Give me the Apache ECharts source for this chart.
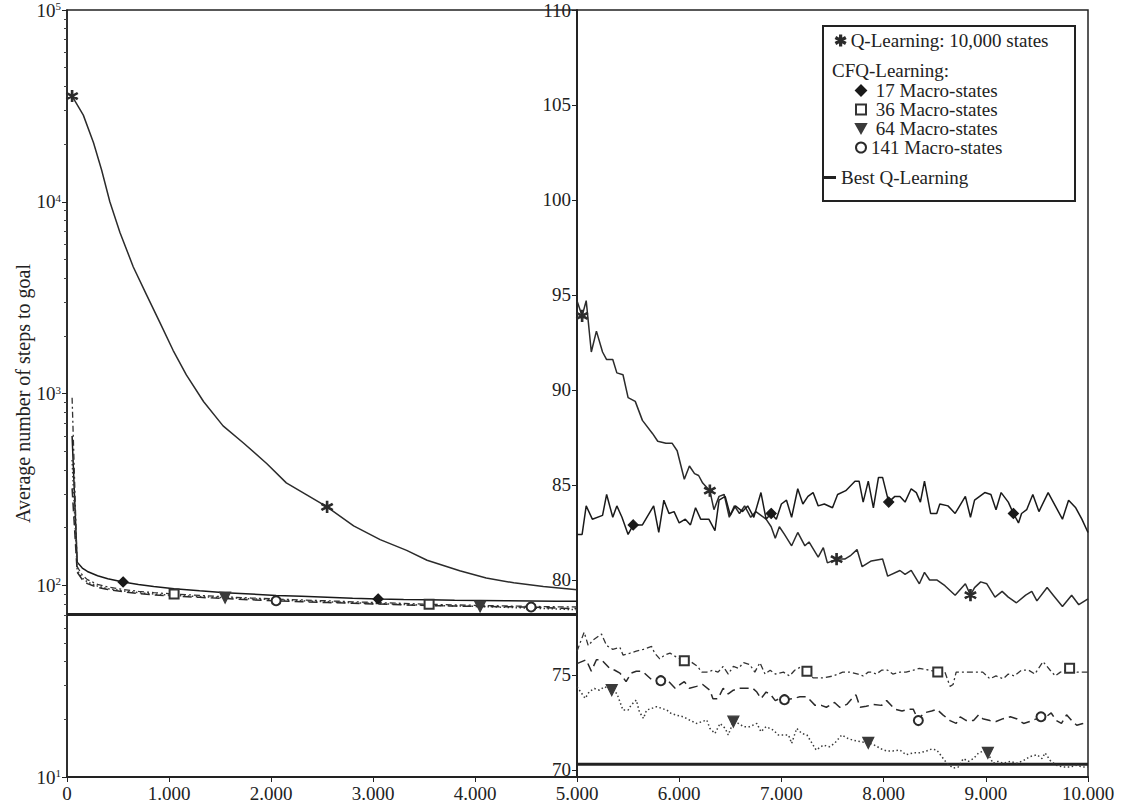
<!DOCTYPE html>
<html>
<head>
<meta charset="utf-8">
<script src="https://cdn.jsdelivr.net/npm/echarts@6/dist/echarts.min.js"></script>
<style>html,body{margin:0;padding:0;background:#fff}#c{width:1124px;height:810px}</style>
</head>
<body>
<div id="c"></div>
<script>
// ---------- DATA ----------
// Left panel (episodes 0-5000, log scale)
const qLeftX = [50,160,260,340,420,520,650,780,910,1040,1170,1340,1530,1730,1960,2150,2350,2550,2810,3070,3330,3530,3850,4110,4380,4670,5000];
const qLeftY = [35600,28300,20300,14600,10000,6900,4570,3270,2350,1680,1250,906,678,552,430,342,296,256,204,173,152,135,119,109,103,98.6,94.7];

const cfqLeftX = [50,100,150,200,300,400,550,700,850,1050,1300,1550,1800,2050,2300,2550,2800,3050,3300,3550,3800,4050,4300,4550,4800,5000];
const m17LeftY  = [600,132,123,118,112,108,104,101,98.5,96,93.5,91.5,90,88.5,87.5,86.5,85.5,84.8,84.3,84,83.6,83.3,83,82.8,82.6,82.5];
const m36LeftY  = [950,125,113,107,101,98,95,93,91.5,90,88.5,87,85.8,84.8,83.8,83,82,81.2,80.4,79.6,79,78.5,78,77.6,77.2,77];
const m64LeftY  = [450,120,109,104,99,96,93.5,91.5,90,88.5,87.3,86.2,85,84,83,82,81,80.2,79.4,78.6,78,77.5,76.7,76,75.2,74.5];
const m141LeftY = [320,117,107,102,97.5,95,92.5,90.5,89,87.8,86.5,85.2,84,83,82,81.2,80.5,79.8,79,78.4,77.9,77.5,77.2,77,76,75.5];

// Right panel (episodes 5000-10000, linear scale)
const qRightX = [5000,5050,5090,5140,5190,5250,5290,5350,5390,5450,5500,5570,5640,5740,5790,5870,5930,5980,6050,6100,6150,6190,6230,6300,6340,6390,6440,6490,6540,6590,6640,6700,6750,6800,6850,6900,6940,6980,7030,7100,7160,7230,7270,7360,7410,7450,7540,7620,7680,7740,7790,7880,7990,8040,8160,8210,8270,8350,8400,8450,8520,8600,8700,8800,8850,8890,8950,9010,9090,9160,9220,9300,9390,9450,9500,9600,9660,9750,9840,9910,10000];
const qRightY = [94.7,93.9,94.7,92.0,93.1,92.0,91.6,91.6,90.9,90.8,89.6,89.4,88.4,87.7,87.3,87.2,87.2,86.8,85.3,86.0,85.6,85.5,85.1,84.7,83.7,84.4,84.5,83.3,83.9,83.5,83.9,83.3,83.6,83.4,83.2,82.8,82.2,82.8,82.4,81.8,82.5,81.8,82.0,81.2,81.7,80.9,81.1,81.1,81.3,81.6,80.7,81.0,81.1,80.2,80.5,80.3,80.5,79.8,80.4,80.0,80.0,79.7,79.2,79.8,79.2,79.6,79.9,79.8,79.1,79.4,79.1,78.8,79.2,79.4,78.9,79.6,79.2,78.6,79.2,78.7,79.0];

const m17RightX = [5000,5050,5090,5150,5250,5290,5350,5390,5440,5500,5550,5640,5750,5800,5850,5900,5950,6000,6060,6110,6160,6210,6290,6350,6390,6450,6500,6550,6620,6670,6730,6800,6850,6900,6950,7000,7050,7100,7160,7210,7260,7310,7360,7420,7500,7550,7630,7720,7760,7800,7850,7900,7950,7990,8050,8110,8160,8210,8270,8320,8360,8400,8460,8520,8550,8630,8700,8800,8850,8890,8990,9050,9100,9150,9220,9270,9320,9350,9400,9460,9520,9610,9680,9750,9810,9880,9940,10000];
const m17RightY = [82.4,82.4,83.9,83.2,83.4,84.5,83.3,83.9,83.3,82.4,82.9,82.9,83.9,82.5,84.2,83.5,83.6,83.0,83.2,82.9,83.8,83.2,83.2,82.6,84.2,84.4,83.4,83.9,83.6,83.9,83.3,84.6,83.2,83.5,83.2,84.0,84.2,83.3,84.8,84.0,84.4,84.6,83.9,84.0,83.8,84.5,84.7,85.2,85.2,84.1,85.2,83.8,85.4,85.4,84.1,84.4,84.4,84.1,84.8,84.6,84.1,85.2,83.5,83.5,84.0,83.9,83.5,84.4,83.3,84.2,84.6,84.5,83.7,84.6,84.1,83.5,83.0,83.5,83.7,84.5,83.6,84.6,83.9,83.2,84.2,83.8,83.2,82.5];

const m36RightX = [5000,5070,5110,5160,5240,5290,5350,5420,5450,5520,5580,5650,5730,5760,5810,5860,5910,5970,6050,6100,6180,6220,6270,6330,6380,6430,6480,6530,6580,6630,6690,6740,6790,6840,6890,6940,7020,7080,7130,7200,7250,7310,7410,7510,7600,7670,7750,7800,7850,7880,7930,7980,8040,8090,8160,8220,8290,8350,8450,8530,8600,8650,8680,8710,8780,8840,8910,8970,9040,9100,9170,9220,9280,9350,9420,9480,9560,9630,9680,9730,9820,9890,9950,10000];
const m36RightY = [76.25,77.25,76.55,76.85,77.15,76.55,76.35,76.45,76.05,76.15,76.25,76.35,76.5,76.15,75.85,76.05,76.15,75.95,75.75,75.75,75.45,75.15,75.15,75.25,75.15,75.45,75.05,75.45,75.35,75.65,75.55,75.15,75.65,75.05,75.25,75.05,75.15,74.95,75.25,75.45,75.2,74.85,74.85,74.95,75.15,75.15,75.05,74.95,75.15,75.15,75.05,75.25,75.25,75.05,75.15,75.15,75.25,75.35,75.25,75.15,75.15,74.4,74.5,75.15,75.15,75.15,75.15,75.15,74.8,74.95,74.8,75.05,74.95,75.25,75.25,75.05,75.7,75.25,74.95,75.15,75.35,75.15,75.15,75.15];

const m64RightX = [5000,5080,5120,5170,5220,5270,5340,5390,5420,5450,5500,5530,5580,5610,5650,5680,5730,5780,5830,5880,5920,5970,6040,6100,6170,6220,6270,6300,6350,6400,6450,6480,6530,6580,6630,6690,6760,6800,6850,6920,6970,7020,7070,7100,7150,7200,7250,7290,7340,7410,7470,7520,7590,7650,7700,7770,7850,7910,7980,8030,8090,8160,8220,8290,8350,8420,8470,8520,8570,8620,8680,8730,8780,8830,8880,8930,8980,9020,9070,9120,9170,9240,9300,9370,9430,9500,9550,9580,9630,9690,9760,9820,9890,9950,10000];
const m64RightY = [74.38,73.77,74.12,74.29,74.2,74.38,74.2,74.03,73.59,73.15,73.15,73.42,73.68,73.07,72.71,73.15,73.24,73.33,73.24,73.15,72.98,72.89,72.8,72.63,72.45,72.54,72.63,72.19,71.92,72.45,72.19,71.84,72.54,72.45,72.28,72.28,72.45,72.01,72.28,72.1,71.84,71.84,71.84,71.4,72.19,71.92,71.84,71.49,71.05,71.31,71.22,71.4,71.84,71.66,71.57,71.49,71.43,71.31,71.1,71.0,71.0,71.05,70.8,70.9,70.9,71.0,71.1,71.05,70.7,70.35,70.1,70.15,70.6,70.45,70.6,70.9,71.0,70.9,70.35,70.45,70.35,70.45,70.35,70.5,70.7,70.8,70.6,70.9,70.5,70.25,70.15,70.15,70.25,70.15,70.15];

const m141RightX = [5000,5090,5140,5190,5240,5320,5370,5420,5480,5530,5580,5630,5660,5730,5820,5880,5960,6010,6050,6100,6170,6230,6300,6330,6380,6430,6480,6530,6590,6660,6720,6760,6800,6850,6890,6940,6980,7030,7110,7180,7250,7330,7390,7440,7520,7570,7640,7690,7730,7770,7830,7900,7980,8030,8110,8180,8240,8290,8340,8390,8470,8520,8580,8650,8710,8750,8810,8880,8930,8970,9040,9100,9170,9240,9300,9370,9430,9500,9540,9590,9640,9690,9740,9790,9840,9890,9950,10000];
const m141RightY = [75.6,75.8,75.2,75.8,75.8,75.35,75.25,75.1,74.65,75.1,75.2,75.2,75.1,74.75,74.7,74.75,74.3,74.5,74.65,74.3,74.4,74.5,74.2,73.75,73.75,74.3,74.0,74.2,74.3,74.3,74.3,74.1,73.75,74.1,74.0,73.65,73.75,73.7,73.75,73.85,73.85,73.4,73.4,73.3,73.55,73.3,73.45,73.75,73.95,73.3,73.35,73.45,73.4,73.65,73.2,73.1,73.2,73.2,72.6,73.0,73.1,73.2,72.9,72.6,72.45,72.8,72.6,72.6,72.9,72.7,72.6,72.55,72.7,72.8,72.7,72.45,72.55,72.7,72.8,72.8,73.0,72.6,72.45,72.9,72.6,72.35,72.45,72.55];

const bestX = [0,5000,10000];
const bestY = [70.3,70.3,70.3];

// episodes where markers are drawn on each curve
const markersQ   = [50,2550,5050,6300,7540,8850];
const markers17  = [550,3050,5550,6900,8050,9270];
const markers36  = [1050,3550,6050,7250,8530,9820];
const markers64  = [1550,4050,5340,6530,7850,9020];
const markers141 = [2050,4550,5820,7030,8340,9540];

const yTicksRight = [70,75,80,85,90,95,100,105,110];

const names = {
  q: 'Q-Learning: 10,000 states',
  m17: '17 Macro-states',
  m36: '36 Macro-states',
  m64: '64 Macro-states',
  m141: '141 Macro-states',
  best: 'Best Q-Learning'
};

// ---------- STYLE ----------
const FONT = 'Liberation Serif';
const INK = '#222';
const ASTERISK = 'path://M4.4,0L5.6,0L5.6,10L4.4,10Z M0.97,1.98L9.63,6.98L9.03,8.02L0.37,3.02Z M0.37,6.98L9.03,1.98L9.63,3.02L0.97,8.02Z';
const TRI_DOWN = 'path://M0,0L10,0L5,9Z';

function build(xs, ys, marks, size) {
  return xs.map((x, i) => marks.indexOf(x) >= 0
    ? { value: [x, ys[i]], symbolSize: size }
    : { value: [x, ys[i]], symbol: 'none' });
}

function lineSeries(name, xIdx, xs, ys, marks, sym, size, color, lineType, width) {
  return {
    type: 'line', name: name, xAxisIndex: xIdx, yAxisIndex: xIdx,
    data: build(xs, ys, marks, size),
    symbol: sym, showSymbol: true, symbolSize: size,
    itemStyle: { color: color, borderColor: color, borderWidth: 1.2 },
    lineStyle: { color: color, width: width, type: lineType },
    emphasis: { disabled: true }, silent: true, z: 3
  };
}

const series = [];
const defs = [
  [names.q,    qLeftX,   qLeftY,   qRightX,   qRightY,   markersQ,   ASTERISK, 11, '#2b2b2b', 'solid', 1.5],
  [names.m17,  cfqLeftX, m17LeftY, m17RightX, m17RightY, markers17,  'diamond', 10, '#1a1a1a', 'solid', 1.5],
  [names.m36,  cfqLeftX, m36LeftY, m36RightX, m36RightY, markers36,  'emptyRect', 9, '#333', [6,3,2,3], 1.3],
  [names.m64,  cfqLeftX, m64LeftY, m64RightX, m64RightY, markers64,  TRI_DOWN, 11, '#3a3a3a', [1.5,2.5], 1.5],
  [names.m141, cfqLeftX, m141LeftY, m141RightX, m141RightY, markers141, 'emptyCircle', 9, '#2a2a2a', [9,5], 1.5]
];
defs.forEach(d => {
  series.push(lineSeries(d[0], 0, d[1], d[2], d[5], d[6], d[7], d[8], d[9], d[10]));
  series.push(lineSeries(d[0], 1, d[3], d[4], d[5], d[6], d[7], d[8], d[9], d[10]));
});
series.push({
  type: 'line', name: names.best, xAxisIndex: 0, yAxisIndex: 0, symbol: 'none',
  data: [[bestX[0], bestY[0]], [bestX[1], bestY[1]]],
  itemStyle: { color: INK }, lineStyle: { color: INK, width: 3 }, silent: true, z: 2
});
series.push({
  type: 'line', name: names.best, xAxisIndex: 1, yAxisIndex: 1, symbol: 'none',
  data: [[bestX[1], bestY[1]], [bestX[2], bestY[2]]],
  itemStyle: { color: INK }, lineStyle: { color: INK, width: 3 }, silent: true, z: 2
});

const xFmt = v => v === 0 ? '0' : Math.floor(v / 1000) + '.000';
const labelStyle = { fontFamily: FONT, fontSize: 19, color: INK };
const legendText = { fontFamily: FONT, fontSize: 19, color: INK, lineHeight: 19 };

const chart = echarts.init(document.getElementById('c'), null, { renderer: 'svg' });
chart.setOption({
  animation: false,
  backgroundColor: '#fff',
  textStyle: { fontFamily: FONT },
  grid: [
    { left: 67, top: 10, width: 510, height: 767, show: true, borderColor: INK, borderWidth: 1.5 },
    { left: 577, top: 10, width: 511, height: 767, show: true, borderColor: INK, borderWidth: 1.5 }
  ],
  xAxis: [
    { gridIndex: 0, type: 'value', min: 0, max: 5000, interval: 1000,
      axisLine: { lineStyle: { color: INK, width: 2 } },
      axisTick: { length: 5, lineStyle: { color: INK } },
      axisLabel: Object.assign({ margin: 7, showMaxLabel: false, formatter: xFmt }, labelStyle),
      splitLine: { show: false } },
    { gridIndex: 1, type: 'value', min: 5000, max: 10000, interval: 1000,
      axisLine: { lineStyle: { color: INK, width: 2 } },
      axisTick: { length: 5, lineStyle: { color: INK } },
      axisLabel: Object.assign({ margin: 7, formatter: xFmt }, labelStyle),
      splitLine: { show: false } }
  ],
  yAxis: [
    { gridIndex: 0, type: 'log', logBase: 10, min: 10, max: 100000,
      name: 'Average number of steps to goal', nameLocation: 'middle', nameGap: 34,
      nameTextStyle: { fontFamily: FONT, fontSize: 20, color: INK },
      axisLine: { show: true, lineStyle: { color: INK, width: 1.5 } },
      axisTick: { show: true, length: 5, lineStyle: { color: INK } },
      minorTick: { show: true, splitNumber: 9, length: 3, lineStyle: { color: '#444' } },
      axisLabel: Object.assign({
        margin: 6,
        formatter: v => '10{s|' + Math.round(Math.log10(v)) + '}',
        rich: { s: { fontFamily: FONT, fontSize: 11, color: INK, verticalAlign: 'top', lineHeight: 10 } }
      }, labelStyle),
      splitLine: { show: false } },
    { gridIndex: 1, type: 'value', min: 69.63, max: 110,
      axisLine: { show: true, lineStyle: { color: INK, width: 1.5 } },
      axisTick: { show: true, length: 5, customValues: yTicksRight, lineStyle: { color: INK } },
      axisLabel: Object.assign({ margin: 6, customValues: yTicksRight }, labelStyle),
      splitLine: { show: false } }
  ],
  title: {
    text: 'CFQ-Learning:', left: 832, top: 61, padding: 0,
    textStyle: { fontFamily: FONT, fontSize: 19, fontWeight: 'normal', color: INK }
  },
  graphic: [{
    type: 'rect', left: 822, top: 25, z: 3, silent: true,
    shape: { width: 252, height: 175 },
    style: { fill: '#fff', stroke: INK, lineWidth: 2 }
  }],
  legend: [
    { left: 835, top: 31, padding: 0, itemWidth: 10, itemHeight: 10, selectedMode: false,
      textStyle: legendText, data: [{ name: names.q, icon: ASTERISK }] },
    { left: 855, top: 81, padding: 0, orient: 'vertical', itemGap: 0, itemWidth: 10, itemHeight: 10, selectedMode: false,
      textStyle: legendText,
      formatter: n => n.indexOf('141') === 0 ? n : ' ' + n,
      data: [
        { name: names.m17, icon: 'diamond' },
        { name: names.m36, icon: 'emptyRect' },
        { name: names.m64, icon: TRI_DOWN },
        { name: names.m141, icon: 'emptyCircle' }
      ] },
    { left: 823, top: 168, padding: 0, itemWidth: 13, itemHeight: 3, selectedMode: false,
      textStyle: legendText, data: [{ name: names.best, icon: 'rect' }] }
  ],
  series: series
});
</script>
</body>
</html>
